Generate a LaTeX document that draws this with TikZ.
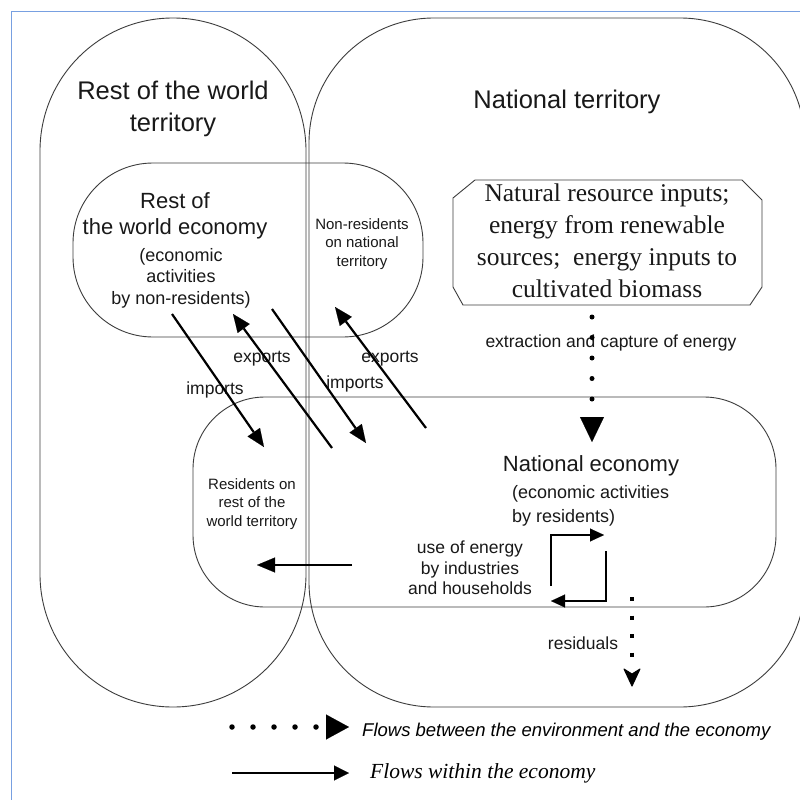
\documentclass[tikz,border=0pt]{standalone}
\usepackage{fontspec}
\setmainfont{Liberation Serif}
\setsansfont{Liberation Sans}
\usetikzlibrary{arrows.meta}
\definecolor{framebl}{RGB}{120,160,225}
\definecolor{outl}{RGB}{60,60,60}
\begin{document}
\begin{tikzpicture}[x=1pt,y=-1pt,
  outline/.style={draw=outl,line width=0.9pt},
  bigt/.style={font=\fontsize{25.5}{32}\selectfont\sffamily,align=center,inner sep=0pt,text=black!90},
  medt/.style={font=\fontsize{22}{26}\selectfont\sffamily,align=center,inner sep=0pt,text=black!90},
  subt/.style={font=\fontsize{18}{21.5}\selectfont\sffamily,align=center,inner sep=0pt,text=black!90},
  smallt/.style={font=\fontsize{15}{18.5}\selectfont\sffamily,align=center,inner sep=0pt,text=black!90},
  lblt/.style={font=\fontsize{17.5}{20.5}\selectfont\sffamily,align=center,inner sep=0pt,text=black!90},
  boxt/.style={font=\fontsize{25.5}{32}\selectfont\rmfamily,align=center,inner sep=0pt,text=black!90},
  flow/.style={line width=2.2pt,-{Triangle[length=18pt,width=15pt,line width=0.1pt]}},
  flowsm/.style={line width=2.2pt,-{Triangle[length=14pt,width=13pt,line width=0.1pt]}},
  envflow/.style={line width=5pt,line cap=round,dash pattern=on 0pt off 20.5pt,-{Triangle[length=25pt,width=24pt,line width=0.1pt]}},
  resflow/.style={line width=4pt,dash pattern=on 4pt off 14.5pt}
]
\useasboundingbox[fill=white] (0,0) rectangle (800,800);
% frame
\draw[framebl,line width=1pt] (11,800) -- (11,12) -- (800,12);
% regions
\draw[outline,rounded corners=132.9] (40,18) rectangle (306,707);
\draw[outline,rounded corners=125] (309,18) rectangle (805,707);
\draw[outline,rounded corners=80] (73,163) rectangle (423,337);
\draw[outline,rounded corners=72] (193,397) rectangle (776,607);
\draw[outline] (475,180) -- (742,180) -- (762,200) -- (762,287) -- (750,305) -- (463,305) -- (453,287) -- (453,198) -- cycle;
% texts
\node[bigt] (rowt) at (173,109) {Rest of the world\\territory};
\node[bigt] (ntt) at (567,102) {National territory};
\node[medt] (rowe) at (175,216) {Rest of\\the world economy};
\node[subt] (rowesub) at (181,278) {(economic\\activities\\by non-residents)};
\node[smallt] (nonres) at (362,244) {Non-residents\\on national\\territory};
\node[boxt] (nri) at (607,241) {Natural resource inputs;\\energy from renewable\\sources;\ \ energy inputs to\\cultivated biomass};
\node[lblt] (extr) at (611,343) {extraction and capture of energy};
\node[lblt] (exp1) at (262,359) {exports};
\node[lblt] (imp1) at (215,390) {imports};
\node[lblt] (exp2) at (390,359) {exports};
\node[lblt] (imp2) at (355,384) {imports};
\node[medt] (ne) at (591,466) {National economy};
\node[subt,anchor=west] (nes1) at (512,494) {(economic activities};
\node[subt,anchor=west] (nes2) at (512,518) {by residents)};
\node[smallt] (resrow) at (252,504) {Residents on\\rest of the\\world territory};
\node[lblt] (use) at (470,568) {use of energy\\by industries\\and households};
\node[lblt] (resid) at (583,643) {residuals};
\node[anchor=west,inner sep=0pt,font=\sffamily\itshape\fontsize{18.5}{21}\selectfont] (leg1) at (362,732) {Flows between the environment and the economy};
\node[anchor=west,inner sep=0pt,font=\rmfamily\itshape\fontsize{21.5}{24}\selectfont] (leg2) at (370,773) {Flows within the economy};
% coordinates
\coordinate (a1s) at (172,314); \coordinate (a1e) at (264,447);
\coordinate (a2s) at (332,448); \coordinate (a2e) at (233,314);
\coordinate (a3s) at (272,309); \coordinate (a3e) at (366,443);
\coordinate (a4s) at (426,428); \coordinate (a4e) at (335,307);
\coordinate (ls) at (352,565); \coordinate (le) at (257,565);
\coordinate (p1s) at (551,586); \coordinate (p1c) at (551,535); \coordinate (p1e) at (604,535);
\coordinate (p2s) at (606,551); \coordinate (p2c) at (606,601); \coordinate (p2e) at (551,601);
\coordinate (exs) at (592,317); \coordinate (exe) at (592,442);
\coordinate (rss) at (632,597); \coordinate (rsm) at (632,660); \coordinate (rse) at (632,686);
\coordinate (l1s) at (232,727); \coordinate (l1e) at (349,727);
\coordinate (l2s) at (232,773); \coordinate (l2e) at (349,773);
% flows
\draw[flow] (a1s) -- (a1e);
\draw[flow] (a2s) -- (a2e);
\draw[flow] (a3s) -- (a3e);
\draw[flow] (a4s) -- (a4e);
\draw[flow] (ls) -- (le);
\draw[flowsm] (p1s) -- (p1c) -- (p1e);
\draw[flowsm] (p2s) -- (p2c) -- (p2e);
\draw[envflow] (exs) -- (exe);
\draw[resflow] (rss) -- (rsm);
\filldraw[black,line width=1pt,line join=round] (rse) -- ++(-8,-17) -- ++(8,5) -- ++(8,-5) -- cycle;
\draw[line width=5.5pt,line cap=round,dash pattern=on 0pt off 21pt,-{Triangle[length=23pt,width=25pt,line width=0.1pt]}] (l1s) -- (l1e);
\draw[line width=2pt,-{Triangle[length=15pt,width=15pt,line width=0.1pt]}] (l2s) -- (l2e);
\end{tikzpicture}
\end{document}
